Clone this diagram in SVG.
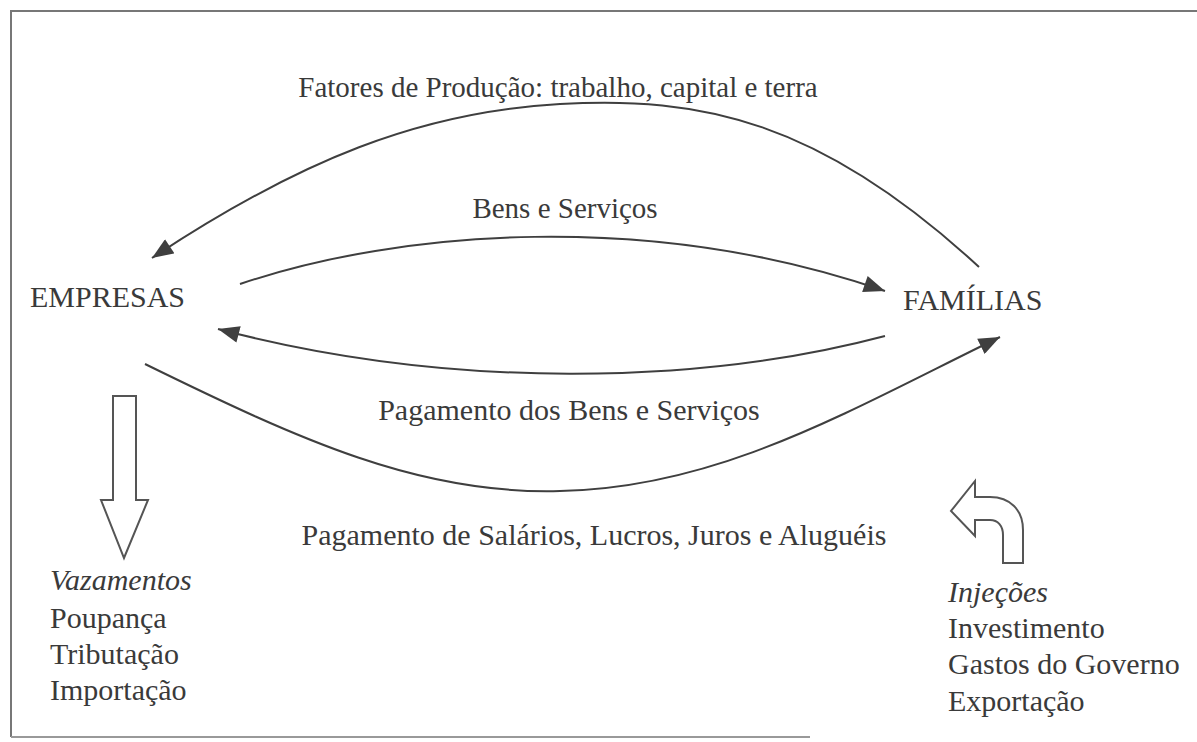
<svg xmlns="http://www.w3.org/2000/svg" width="1197" height="742" viewBox="0 0 1197 742">
<style>
text{font-family:"Liberation Serif","Times New Roman",serif;fill:#3a3a3a;font-size:30px}
.lbl{font-size:29px}
.lbl2{font-size:30px}
.it{font-style:italic}
.c{fill:none;stroke:#3f3f3f;stroke-width:2}
.hollow{fill:#fff;stroke:#555;stroke-width:2;stroke-linejoin:miter}
</style>
<defs>
<marker id="ahb" viewBox="0 0 20 16" refX="20" refY="8" markerWidth="22" markerHeight="17" markerUnits="userSpaceOnUse" orient="auto">
<path d="M0,0 L20,8 L0,16 z" fill="#3f3f3f"/>
</marker>
</defs>
<rect width="1197" height="742" fill="#fff"/>
<path d="M11,737 L11,11 L1197,11" fill="none" stroke="#777" stroke-width="2"/>
<line x1="11" y1="737" x2="810" y2="737" stroke="#999" stroke-width="2"/>

<g id="connectors">
<path class="c" marker-end="url(#ahb)" d="M979,267 C820,120 700,96 560,104 C420,112 300,160 152,258"/>
<path class="c" marker-end="url(#ahb)" d="M240,284 C400,230 650,210 885,291"/>
<path class="c" marker-end="url(#ahb)" d="M885,336 C700,385 450,390 218,329"/>
<path class="c" marker-end="url(#ahb)" d="M145,364 C300,440 420,495 560,491 C720,488 850,410 1000,337"/>
</g>

<g id="label-fatores"><text class="lbl" x="558" y="97" text-anchor="middle">Fatores de Produção: trabalho, capital e terra</text></g>
<g id="label-bens"><text class="lbl" x="565" y="218" text-anchor="middle">Bens e Serviços</text></g>
<g id="label-pagbens"><text class="lbl2" x="569" y="420" text-anchor="middle">Pagamento dos Bens e Serviços</text></g>
<g id="label-pagsal"><text class="lbl2" x="594" y="545" text-anchor="middle">Pagamento de Salários, Lucros, Juros e Aluguéis</text></g>

<g id="empresas"><text x="30" y="307">EMPRESAS</text></g>
<g id="familias"><text x="903" y="310">FAMÍLIAS</text></g>

<g id="vazamentos">
<path class="hollow" d="M113,396 L136,396 L136,500 L148,500 L124,558 L101,500 L113,500 Z"/>
<text class="it" x="50" y="590">Vazamentos</text>
<text x="50" y="628">Poupança</text>
<text x="50" y="664">Tributação</text>
<text x="50" y="700">Importação</text>
</g>

<g id="injecoes">
<path class="hollow" d="M1003,563 L1023,563 L1023,530 C1023,510 1010,497 990,497 L975,497 L975,481 L951,511 L975,536 L975,520 L990,520 C998,520 1003,526 1003,535 Z"/>
<text class="it" x="948" y="602">Injeções</text>
<text x="948" y="638">Investimento</text>
<text x="948" y="674">Gastos do Governo</text>
<text x="948" y="711">Exportação</text>
</g>
</svg>
